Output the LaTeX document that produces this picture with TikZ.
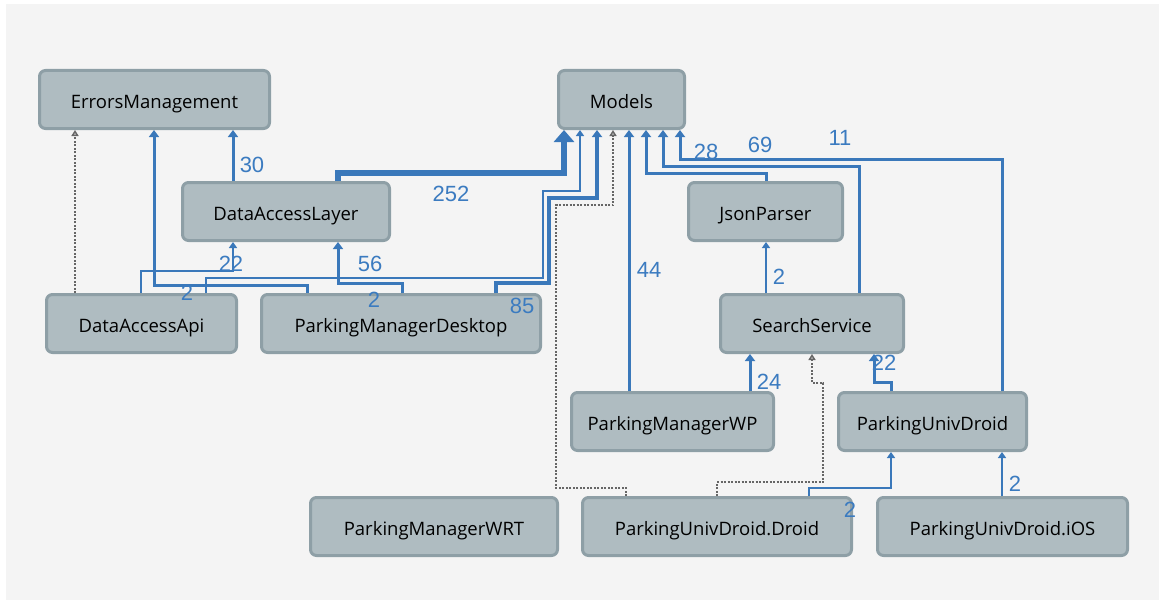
\documentclass[tikz,border=0pt]{standalone}
\usepackage{fontspec}
\setmainfont{Open Sans}
\newfontfamily\numfont{Liberation Sans}
\usetikzlibrary{arrows.meta}
\definecolor{bgc}{HTML}{F4F4F4}
\definecolor{boxfill}{HTML}{AFBCC1}
\definecolor{boxline}{HTML}{8E9FA6}
\definecolor{linkblue}{HTML}{3A78BA}
\definecolor{numblue}{HTML}{3B7BC0}
\definecolor{dotgray}{HTML}{666666}
\begin{document}
\begin{tikzpicture}[x=1pt,y=-1pt,
    proj/.style={draw=boxline, fill=boxfill, line width=3pt, rounded corners=6pt,
      inner sep=0pt, minimum height=58pt, text height=19.6pt, text depth=2pt,
      font=\fontsize{18.5}{20}\selectfont},
    dep/.style={draw=linkblue, line width=3pt, -{Triangle[width=10pt,length=7pt]}},
    weak/.style={draw=linkblue, line width=1.8pt, -{Triangle[width=8pt,length=6pt]}},
    heavy/.style={draw=linkblue, line width=5.5pt, -{Triangle[width=20pt,length=12pt]}},
    dotdep/.style={draw=dotgray, line width=2pt, dash pattern=on 2pt off 1.5pt,
      -{Triangle[open,width=7pt,length=6pt]}},
    lbl/.style={text=numblue, font=\numfont\fontsize{22}{24}\selectfont, inner sep=0pt}]
    \useasboundingbox (0,0) rectangle (1160,602);
    \fill[white] (0,0) rectangle (1160,602);
    \fill[bgc] (6,4) rectangle (1159,600);

    \node[proj, minimum width=230pt] (em) at (154.5,99.5) {ErrorsManagement};
    \node[proj, minimum width=126pt] (models) at (621.5,99.5) {Models};
    \node[proj, minimum width=207pt] (dal) at (286,211.5) {DataAccessLayer};
    \node[proj, minimum width=154pt] (jp) at (765.5,211.5) {JsonParser};
    \node[proj, minimum width=190pt] (daa) at (141.5,323.5) {DataAccessApi};
    \node[proj, minimum width=279pt] (pmd) at (401,323.5) {ParkingManagerDesktop};
    \node[proj, minimum width=183pt] (ss) at (812,323.5) {SearchService};
    \node[proj, minimum width=202pt] (pmwp) at (672.5,421.5) {ParkingManagerWP};
    \node[proj, minimum width=188pt] (pud) at (932.5,421.5) {ParkingUnivDroid};
    \node[proj, minimum width=247pt] (wrt) at (434,526.5) {ParkingManagerWRT};
    \node[proj, minimum width=269pt] (droid) at (717,526.5) {ParkingUnivDroid.Droid};
    \node[proj, minimum width=250pt] (ios) at (1002.5,526.5) {ParkingUnivDroid.iOS};

    \draw[dep] (dal.north -| 233,0) -- (em.south -| 233,0);
    \draw[dotdep] (daa.north -| 75,0) -- (em.south -| 75,0);
    \draw[dep] (pmd.north -| 307,0) |- (154,285) -- (em.south -| 154,0);
    \draw[weak] (daa.north -| 141,0) |- (233,271) -- (dal.south -| 233,0);
    \draw[weak] (daa.north -| 206,0) |- (543,278) |- (580,191) -- (models.south -| 580,0);
    \draw[dep] (pmd.north -| 402,0) |- (338,283) -- (dal.south -| 338,0);
    \draw[heavy] (dal.north -| 338,0) |- (564,173) -- (models.south -| 564,0);
    \draw[dep, line width=4pt] (pmd.north -| 496,0) |- (549,283) |- (597,198) -- (models.south -| 597,0);
    \draw[dotdep] (droid.north -| 626,0) |- (556,488) |- (613,205) -- (models.south -| 613,0);
    \draw[dep] (pmwp.north -| 629,0) -- (models.south -| 629,0);
    \draw[dep] (jp.north -| 766,0) |- (646,173) -- (models.south -| 646,0);
    \draw[dep] (ss.north -| 859,0) |- (663,166) -- (models.south -| 663,0);
    \draw[dep] (pud.north -| 1002,0) |- (680,159) -- (models.south -| 680,0);
    \draw[weak] (ss.north -| 766,0) -- (jp.south -| 766,0);
    \draw[dep] (pmwp.north -| 750,0) -- (ss.south -| 750,0);
    \draw[dep] (pud.north -| 891,0) |- (874,382) -- (ss.south -| 874,0);
    \draw[dotdep] (droid.north -| 717,0) |- (823,482) |- (812,383) -- (ss.south -| 812,0);
    \draw[weak] (droid.north -| 809,0) |- (891,488) -- (pud.south -| 891,0);
    \draw[weak] (ios.north -| 1002,0) -- (pud.south -| 1002,0);

    \node[lbl] (n30) at (252,165) {30};
    \node[lbl] (n252) at (451,194) {252};
    \node[lbl] (n22a) at (231,264) {22};
    \node[lbl] (n2a) at (187,293) {2};
    \node[lbl] (n56) at (370,264) {56};
    \node[lbl] (n2b) at (374,300) {2};
    \node[lbl] (n85) at (522,306) {85};
    \node[lbl] (n44) at (649,270) {44};
    \node[lbl] (n28) at (706,152) {28};
    \node[lbl] (n69) at (760,145) {69};
    \node[lbl] (n11) at (840,138) {11};
    \node[lbl] (n2c) at (779,277) {2};
    \node[lbl] (n24) at (769,382) {24};
    \node[lbl] (n22b) at (884,363) {22};
    \node[lbl] (n2d) at (850,510) {2};
    \node[lbl] (n2e) at (1015,484) {2};
\end{tikzpicture}
\end{document}
